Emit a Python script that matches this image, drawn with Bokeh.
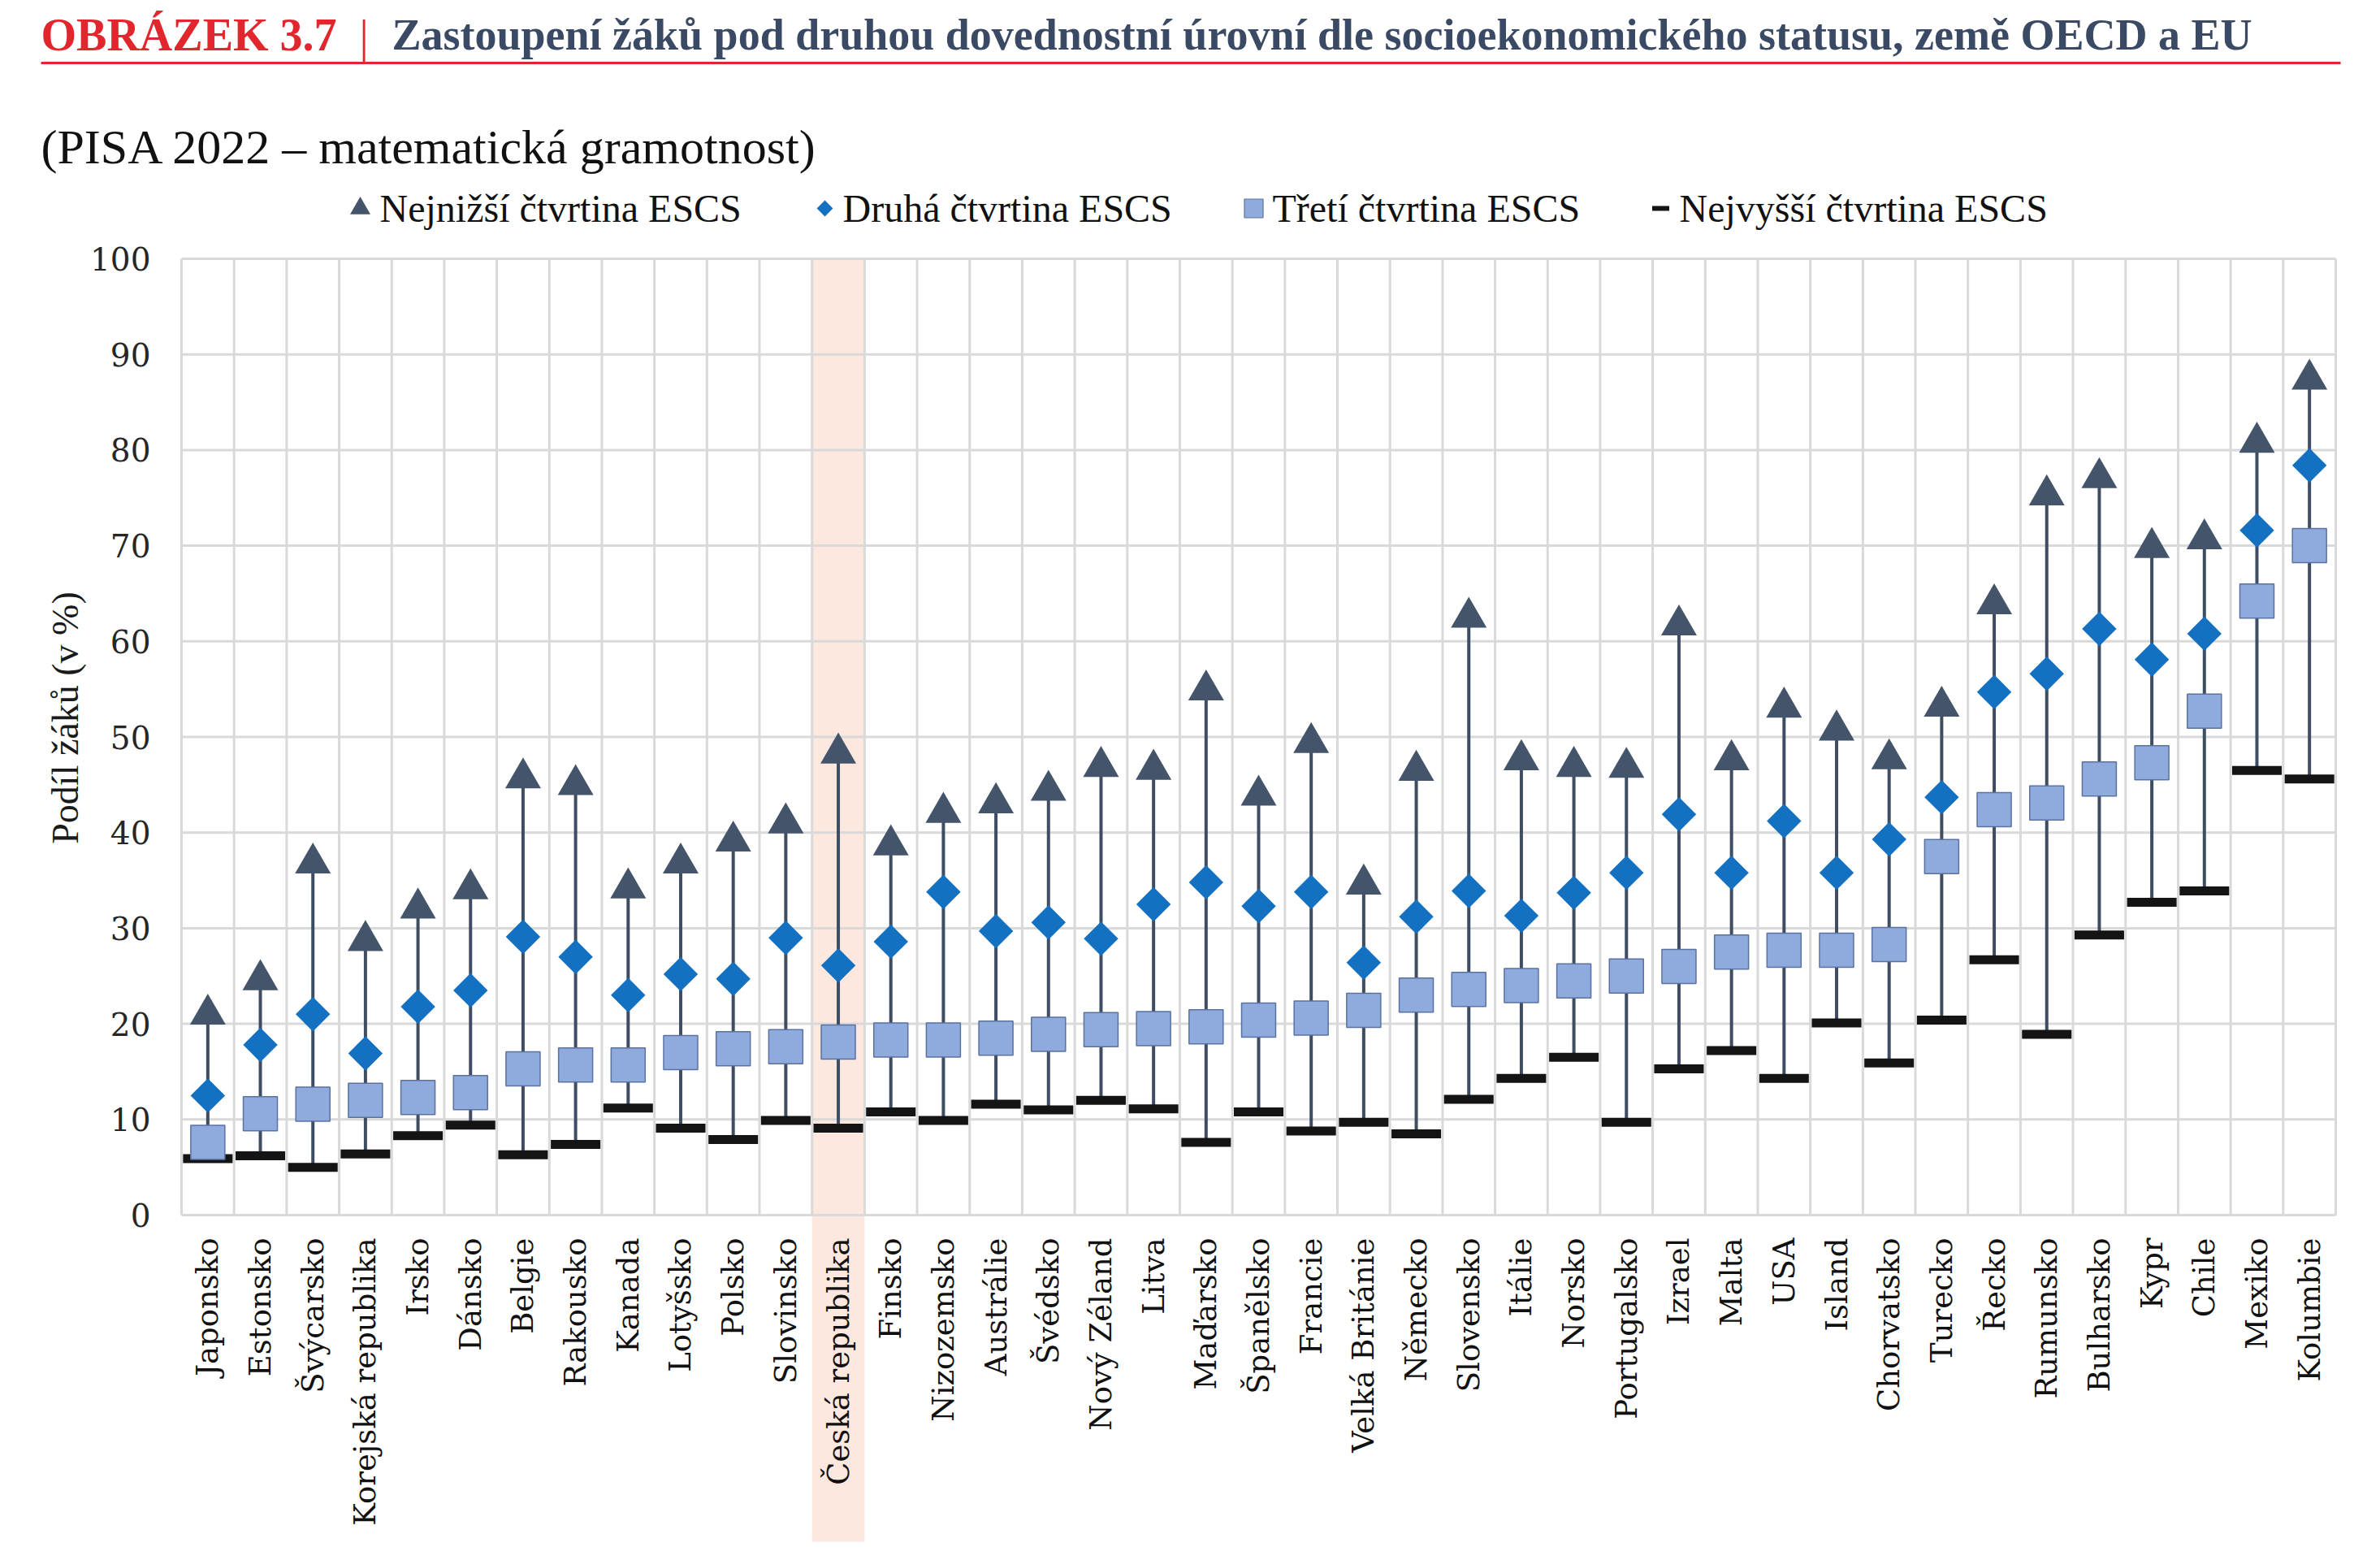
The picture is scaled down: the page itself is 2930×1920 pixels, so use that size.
import numpy as np
from bokeh.plotting import figure
from bokeh.models import Range1d
from bokeh.core.properties import value
from bokeh.embed import file_html
from bokeh.resources import INLINE

# --- data: share of students below level 2 (%) by ESCS quarter ---
countries = [
    "Japonsko", "Estonsko", "Švýcarsko", "Korejská republika", "Irsko", "Dánsko",
    "Belgie", "Rakousko", "Kanada", "Lotyšsko", "Polsko", "Slovinsko",
    "Česká republika", "Finsko", "Nizozemsko", "Austrálie", "Švédsko",
    "Nový Zéland", "Litva", "Maďarsko", "Španělsko", "Francie", "Velká Británie",
    "Německo", "Slovensko", "Itálie", "Norsko", "Portugalsko", "Izrael", "Malta",
    "USA", "Island", "Chorvatsko", "Turecko", "Řecko", "Rumunsko", "Bulharsko",
    "Kypr", "Chile", "Mexiko", "Kolumbie",
]
lowest_q = [
    21.0, 24.6, 36.8, 28.7, 32.1, 34.1, 45.7, 45.0, 34.2, 36.8, 39.1, 41.0,
    48.3, 38.7, 42.1, 43.1, 44.4, 46.9, 46.6, 54.9, 43.9, 49.4, 34.6,
    46.5, 62.5, 47.6, 46.9, 46.8, 61.7, 47.6, 53.1, 50.7, 47.7, 53.2,
    63.9, 75.3, 77.1, 69.8, 70.7, 80.8, 87.4,
]
second_q = [
    12.5, 17.8, 21.0, 16.9, 21.8, 23.5, 29.1, 27.0, 23.0, 25.2, 24.7, 29.0,
    26.1, 28.6, 33.8, 29.7, 30.6, 28.9, 32.5, 34.8, 32.3, 33.8, 26.4,
    31.2, 33.9, 31.3, 33.7, 35.8, 41.9, 35.8, 41.2, 35.8, 39.3, 43.7,
    54.7, 56.6, 61.3, 58.1, 60.8, 71.6, 78.4,
]
third_q = [
    7.6, 10.6, 11.6, 12.0, 12.3, 12.8, 15.3, 15.7, 15.7, 17.0, 17.4, 17.6,
    18.1, 18.3, 18.3, 18.5, 18.9, 19.4, 19.5, 19.7, 20.4, 20.6, 21.4,
    23.0, 23.6, 24.0, 24.5, 25.0, 26.0, 27.5, 27.7, 27.7, 28.3, 37.5,
    42.4, 43.1, 45.6, 47.3, 52.7, 64.2, 70.0,
]
highest_q = [
    5.9, 6.2, 5.0, 6.4, 8.3, 9.4, 6.3, 7.4, 11.2, 9.1, 7.9, 9.9,
    9.1, 10.8, 9.9, 11.6, 11.0, 12.0, 11.1, 7.6, 10.8, 8.8, 9.7,
    8.5, 12.1, 14.3, 16.5, 9.7, 15.3, 17.2, 14.3, 20.1, 15.9, 20.4,
    26.7, 18.9, 29.3, 32.7, 33.9, 46.5, 45.6,
]
y_ticks = list(range(0, 101, 10))
highlight = "Česká republika"

legend_labels = [
    "Nejnižší čtvrtina ESCS", "Druhá čtvrtina ESCS",
    "Třetí čtvrtina ESCS", "Nejvyšší čtvrtina ESCS",
]

# --- page geometry (pixels) ---
W, H = 2930, 1920
FRAME_L, FRAME_R = 223, 2875
Y0_PX, Y100_PX = 1495, 318
n = len(countries)
ux = (FRAME_R - FRAME_L) / n
uy = (Y0_PX - Y100_PX) / 100.0


def X(px):
    return (px - FRAME_L) / ux


def Y(py):
    return (Y0_PX - py) / uy


SERIF = value("Liberation Serif")
WIDE_SERIF = value("DejaVu Serif")

C_TRI = "#44546a"
C_DIA = "#1470c0"
C_SQ = "#8faadc"
C_SQ_LINE = "#5b72a0"
C_BAR = "#141414"
C_GRID = "#d9d9d9"
C_RED = "#e1262d"
C_TITLE = "#3b4a64"

p = figure(
    width=W, height=H,
    x_range=Range1d(X(0), X(W)), y_range=Range1d(Y(H), Y(0)),
    output_backend="svg", toolbar_location=None,
    x_axis_location=None, y_axis_location=None,
    min_border=0, outline_line_color=None,
    background_fill_color="white", border_fill_color="white",
)
p.xgrid.visible = False
p.ygrid.visible = False

xs = np.arange(n) + 0.5

# highlighted country band, running down behind its label
hi = countries.index(highlight)
p.quad(left=[hi], right=[hi + 1], top=[100], bottom=[Y(1897)],
       fill_color="#fce8df", line_color=None)

# grid
p.segment(x0=0, x1=n, y0=y_ticks, y1=y_ticks, line_color=C_GRID, line_width=3)
edges = np.arange(n + 1)
p.segment(x0=edges, x1=edges, y0=0, y1=100, line_color=C_GRID, line_width=3)

# range stems from highest to lowest quarter
p.segment(x0=xs, y0=highest_q, x1=xs, y1=lowest_q, line_color="#3f4d62", line_width=4)

p.scatter(xs, highest_q, marker="dash", size=61, line_width=11, line_color=C_BAR)
p.scatter(xs, third_q, marker="square", size=42, fill_color=C_SQ,
          line_color=C_SQ_LINE, line_width=1.5)
p.scatter(xs, second_q, marker="square", angle=np.pi / 4, size=30,
          fill_color=C_DIA, line_color=None)
p.scatter(xs, lowest_q, marker="triangle", size=44, fill_color=C_TRI, line_color=None)

# y tick labels
p.text(x=[X(185)] * len(y_ticks), y=y_ticks, text=[str(t) for t in y_ticks],
       text_font=WIDE_SERIF, text_font_size="39px", text_color="#262626",
       text_align="right", text_baseline="middle")

# y axis title
p.text(x=[X(80)], y=[Y(883)], text=["Podíl žáků (v %)"], angle=np.pi / 2,
       text_font=SERIF, text_font_size="46px", text_color="#1a1a1a",
       text_align="center", text_baseline="middle")

# category labels, rotated
p.text(x=xs, y=[0] * n, text=countries, angle=np.pi / 2, y_offset=28,
       text_font=WIDE_SERIF, text_font_size="37px", text_color="#111111",
       text_align="right", text_baseline="middle")

# heading
p.text(x=[X(50)], y=[Y(42)], text=["OBRÁZEK 3.7"], text_font=SERIF,
       text_font_style="bold", text_font_size="56px", text_color=C_RED,
       text_align="left", text_baseline="middle")
p.text(x=[X(442)], y=[Y(44)], text=["|"], text_font=SERIF,
       text_font_size="56px", text_color=C_RED,
       text_align="left", text_baseline="middle")
p.text(x=[X(482)], y=[Y(42)],
       text=["Zastoupení žáků pod druhou dovednostní úrovní dle socioekonomického statusu, země OECD a EU"],
       text_font=SERIF, text_font_style="bold", text_font_size="54px",
       text_color=C_TITLE, text_align="left", text_baseline="middle")
p.segment(x0=[X(50)], x1=[X(2881)], y0=[Y(77)], y1=[Y(77)], line_color=C_RED, line_width=3)

p.text(x=[X(50)], y=[Y(180)], text=["(PISA 2022 – matematická gramotnost)"],
       text_font=SERIF, text_font_size="60px", text_color="#111111",
       text_align="left", text_baseline="middle")

# legend
ly = Y(256)
leg_marker_x = [443, 1015, 1543, 2044]
leg_text_x = [467, 1037, 1566, 2067]
p.scatter([X(leg_marker_x[0])], [ly], marker="triangle", size=25, fill_color=C_TRI, line_color=None)
p.scatter([X(leg_marker_x[1])], [ly], marker="square", angle=np.pi / 4, size=14,
          fill_color=C_DIA, line_color=None)
p.scatter([X(leg_marker_x[2])], [ly], marker="square", size=23, fill_color=C_SQ,
          line_color=C_SQ_LINE, line_width=1.2)
p.scatter([X(leg_marker_x[3])], [ly], marker="dash", size=21, line_width=6, line_color=C_BAR)
p.text(x=[X(t) for t in leg_text_x], y=[ly] * 4, text=legend_labels,
       text_font=SERIF, text_font_size="48px", text_color="#111111",
       text_align="left", text_baseline="middle")

open("out.html", "w").write(file_html(p, INLINE))
